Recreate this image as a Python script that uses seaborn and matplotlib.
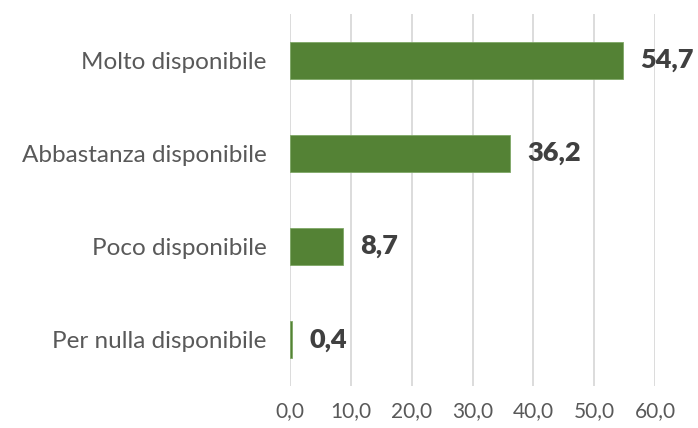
import matplotlib
matplotlib.use("Agg")
import matplotlib.pyplot as plt
import seaborn as sns
import pandas as pd
from matplotlib.ticker import FuncFormatter

categories = ["Molto disponibile", "Abbastanza disponibile", "Poco disponibile", "Per nulla disponibile"]
values = [54.7, 36.2, 8.7, 0.4]
x_ticks = [0, 10, 20, 30, 40, 50, 60]

sns.set_theme(style="white")
plt.rcParams["font.family"] = ["Lato", "DejaVu Sans"]

df = pd.DataFrame({"categoria": categories, "valore": values})

fig = plt.figure(figsize=(6.98, 4.28), dpi=100)
ax = fig.add_axes([0.4155, 0.098, 0.523, 0.87])

sns.barplot(data=df, x="valore", y="categoria", orient="h", color="#548235",
            saturation=1, width=0.4, edgecolor="#7fa766", linewidth=0.6, ax=ax)

ax.set_xlim(0, 60)
ax.set_xticks(x_ticks)
ax.xaxis.set_major_formatter(FuncFormatter(lambda v, p: f"{v:.1f}".replace(".", ",")))
ax.grid(axis="x", color="#d9d9d9", linewidth=1.3)
ax.set_axisbelow(True)
for s in ax.spines.values():
    s.set_visible(False)
ax.set_xlabel("")
ax.set_ylabel("")
ax.tick_params(axis="both", length=0, colors="#595959")
ax.tick_params(axis="y", pad=17, labelsize=17.5)
ax.tick_params(axis="x", pad=11, labelsize=15)

for i, v in enumerate(values):
    ax.text(v + 2.8, i, f"{v:.1f}".replace(".", ","), va="center", ha="left",
            fontsize=19.5, fontweight="heavy", color="#404040", clip_on=False)

fig.savefig("out.png", dpi=100)
